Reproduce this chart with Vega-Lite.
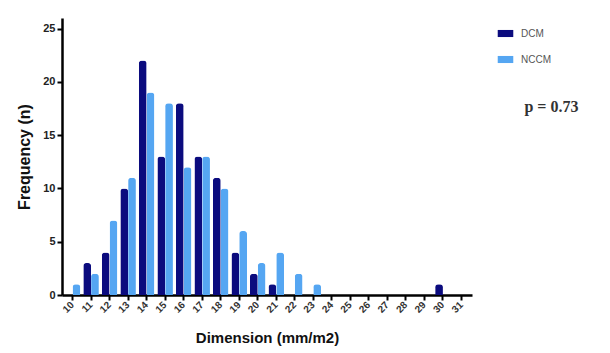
{
  "$schema": "https://vega.github.io/schema/vega-lite/v6.json",
  "width": 410,
  "height": 277,
  "autosize": "none",
  "padding": {"left": 62, "top": 18, "right": 138, "bottom": 58},
  "background": "white",
  "config": {
    "font": "Liberation Sans",
    "view": {"stroke": null}
  },
  "layer": [
    {
      "data": {
        "values": [
          {"dim": "10", "group": "DCM", "n": 0}, {"dim": "10", "group": "NCCM", "n": 1},
          {"dim": "11", "group": "DCM", "n": 3}, {"dim": "11", "group": "NCCM", "n": 2},
          {"dim": "12", "group": "DCM", "n": 4}, {"dim": "12", "group": "NCCM", "n": 7},
          {"dim": "13", "group": "DCM", "n": 10}, {"dim": "13", "group": "NCCM", "n": 11},
          {"dim": "14", "group": "DCM", "n": 22}, {"dim": "14", "group": "NCCM", "n": 19},
          {"dim": "15", "group": "DCM", "n": 13}, {"dim": "15", "group": "NCCM", "n": 18},
          {"dim": "16", "group": "DCM", "n": 18}, {"dim": "16", "group": "NCCM", "n": 12},
          {"dim": "17", "group": "DCM", "n": 13}, {"dim": "17", "group": "NCCM", "n": 13},
          {"dim": "18", "group": "DCM", "n": 11}, {"dim": "18", "group": "NCCM", "n": 10},
          {"dim": "19", "group": "DCM", "n": 4}, {"dim": "19", "group": "NCCM", "n": 6},
          {"dim": "20", "group": "DCM", "n": 2}, {"dim": "20", "group": "NCCM", "n": 3},
          {"dim": "21", "group": "DCM", "n": 1}, {"dim": "21", "group": "NCCM", "n": 4},
          {"dim": "22", "group": "DCM", "n": 0}, {"dim": "22", "group": "NCCM", "n": 2},
          {"dim": "23", "group": "DCM", "n": 0}, {"dim": "23", "group": "NCCM", "n": 1},
          {"dim": "24", "group": "DCM", "n": 0}, {"dim": "24", "group": "NCCM", "n": 0},
          {"dim": "25", "group": "DCM", "n": 0}, {"dim": "25", "group": "NCCM", "n": 0},
          {"dim": "26", "group": "DCM", "n": 0}, {"dim": "26", "group": "NCCM", "n": 0},
          {"dim": "27", "group": "DCM", "n": 0}, {"dim": "27", "group": "NCCM", "n": 0},
          {"dim": "28", "group": "DCM", "n": 0}, {"dim": "28", "group": "NCCM", "n": 0},
          {"dim": "29", "group": "DCM", "n": 0}, {"dim": "29", "group": "NCCM", "n": 0},
          {"dim": "30", "group": "DCM", "n": 1}, {"dim": "30", "group": "NCCM", "n": 0},
          {"dim": "31", "group": "DCM", "n": 0}, {"dim": "31", "group": "NCCM", "n": 0}
        ]
      },
      "mark": {"type": "bar", "cornerRadiusTopLeft": 3, "cornerRadiusTopRight": 3},
      "encoding": {
        "x": {
          "field": "dim", "type": "ordinal", "sort": null,
          "scale": {"paddingInner": 0.16, "paddingOuter": 0.15},
          "axis": {
            "title": "Dimension (mm/m2)",
            "titleFontSize": 15, "titleFontWeight": "bold", "titleColor": "#111", "titlePadding": 16,
            "labelAngle": -45, "labelFontSize": 10, "labelFontWeight": "bold", "labelColor": "#333",
            "labelAlign": "right", "labelBaseline": "middle",
            "domainColor": "black", "domainWidth": 2.5,
            "tickColor": "black", "tickWidth": 2, "tickSize": 5,
            "labelPadding": 3
          }
        },
        "xOffset": {"field": "group", "type": "nominal", "sort": ["DCM", "NCCM"], "scale": {"paddingInner": 0}},
        "y": {
          "field": "n", "type": "quantitative",
          "scale": {"domain": [0, 25]},
          "axis": {
            "title": "Frequency (n)", "values": [0, 5, 10, 15, 20, 25],
            "titleFontSize": 16, "titleFontWeight": "bold", "titleColor": "#111", "titlePadding": 10,
            "labelFontSize": 11, "labelFontWeight": "bold", "labelColor": "#222",
            "domainColor": "black", "domainWidth": 2.5,
            "tickColor": "black", "tickWidth": 2, "tickSize": 5, "grid": false
          }
        },
        "color": {
          "field": "group", "type": "nominal",
          "scale": {"domain": ["DCM", "NCCM"], "range": ["#0b0b7e", "#55a6f2"]},
          "legend": {
            "title": null, "orient": "none", "legendX": 436, "legendY": 8,
            "symbolType": "M-1.1,-0.5 L1.1,-0.5 L1.1,0.5 L-1.1,0.5 Z",
            "symbolSize": 200, "symbolStrokeWidth": 0,
            "labelFontSize": 10, "labelColor": "#555", "rowPadding": 13, "labelOffset": 8
          }
        }
      }
    },
    {
      "data": {"values": [{"label": "p = 0.73", "dim": "31", "n": 17.6}]},
      "mark": {"type": "text", "align": "left", "baseline": "middle", "fontSize": 16, "fontWeight": "bold", "color": "#333", "dx": 63, "font": "Liberation Serif"},
      "encoding": {
        "text": {"field": "label"},
        "x": {"field": "dim", "type": "ordinal"},
        "y": {"field": "n", "type": "quantitative"}
      }
    }
  ]
}
